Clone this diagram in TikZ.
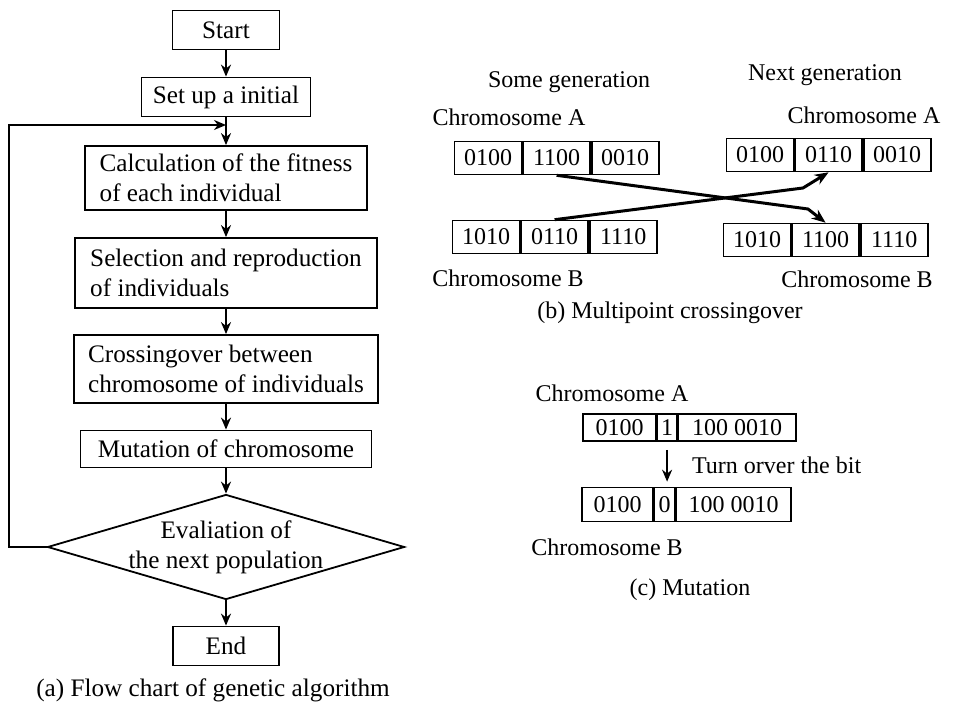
\documentclass[tikz,border=0pt]{standalone}
\usepackage{fontspec}
\setmainfont{Liberation Serif}
\usetikzlibrary{positioning,shapes.geometric,arrows.meta}
\begin{document}
\begin{tikzpicture}[x=0.5pt,y=-0.5pt,
   font=\fontsize{12}{14}\selectfont,
   box/.style={draw, line width=.9pt, inner sep=0pt, font=\fontsize{12.6}{15}\selectfont},
   cell/.style={draw, line width=.8pt, minimum width=33.5pt, minimum height=16.5pt, inner sep=0pt},
   arr/.style={line width=1pt, -{Stealth[length=6pt,width=5pt]}},
   xarr/.style={line width=1.5pt, -{Stealth[length=7pt,width=5.5pt]}}]
   \useasboundingbox (0,0) rectangle (971,706);

   % (a) flow chart
   \node[box, minimum width=53.5pt, minimum height=19.5pt] (start) at (226,30) {Start};
   \node[box, minimum width=84.5pt, minimum height=19.5pt] (init) at (226,97) {Set up a initial};
   \node[box, minimum width=141pt, minimum height=32pt, align=left] (fit) at (226,178) {Calculation of the fitness\\of each individual};
   \node[box, minimum width=151pt, minimum height=35pt, align=left] (sel) at (226,273) {Selection and reproduction\\of individuals};
   \node[box, minimum width=152pt, minimum height=34pt, align=left] (cross) at (226,369) {Crossingover between\\chromosome of individuals};
   \node[box, minimum width=145.5pt, minimum height=18.5pt] (mut) at (226,449) {Mutation of chromosome};
   \node[box, diamond, aspect=3.4, inner sep=-3pt, align=center, minimum width=178.5pt, minimum height=52.5pt] (eval) at (226,547) {Evaliation of\\the next population};
   \node[box, minimum width=53pt, minimum height=19.5pt] (end) at (226,646) {End};
   \node[font=\fontsize{12.6}{15}\selectfont] (capa) at (213,690) {(a) Flow chart of genetic algorithm};

   \coordinate (loopin) at (226,125);
   \draw[arr] (start) -- (init);
   \draw[line width=1pt] (init) -- (loopin);
   \draw[arr] (loopin) -- (fit);
   \draw[arr] (fit) -- (sel);
   \draw[arr] (sel) -- (cross);
   \draw[arr] (cross) -- (mut);
   \draw[arr] (mut) -- (eval);
   \draw[arr] (eval) -- (end);
   \draw[arr] (eval.west) -- ++(-38,0) |- (loopin);

   % (b) multipoint crossingover
   \node (someg) at (569,82) {Some generation};
   \node (nextg) at (825,75) {Next generation};
   \node (lca) at (509,117) {Chromosome A};
   \node (rca) at (864,115) {Chromosome A};

   \node[cell] (sa1) at (488,158) {0100};
   \node[cell, right=0pt of sa1] (sa2) {1100};
   \node[cell, right=0pt of sa2] (sa3) {0010};
   \node[cell] (sb1) at (486,237) {1010};
   \node[cell, right=0pt of sb1] (sb2) {0110};
   \node[cell, right=0pt of sb2] (sb3) {1110};

   \node[cell] (na1) at (760,155) {0100};
   \node[cell, right=0pt of na1] (na2) {0110};
   \node[cell, right=0pt of na2] (na3) {0010};
   \node[cell] (nb1) at (757,240) {1010};
   \node[cell, right=0pt of nb1] (nb2) {1100};
   \node[cell, right=0pt of nb2] (nb3) {1110};

   \node (lcb) at (508,278) {Chromosome B};
   \node (rcb) at (857,279) {Chromosome B};
   \node (capb) at (670,313) {(b) Multipoint crossingover};

   \coordinate (bendab) at (808,209);
   \coordinate (bendba) at (803,188);
   \draw[xarr] (sa2.south) -- (bendab) -- (nb2.north);
   \draw[xarr] (sb2.north) -- (bendba) -- (na2.south);

   % (c) mutation
   \node (mca) at (612,393) {Chromosome A};
   \node[cell, minimum width=36.5pt, minimum height=13.5pt] (ma1) at (619.5,427.5) {0100};
   \node[cell, minimum width=9.5pt, minimum height=13.5pt, right=0pt of ma1] (ma2) {1};
   \node[cell, minimum width=59pt, minimum height=13.5pt, right=0pt of ma2] (ma3) {100 0010};
   \node[cell, minimum width=35.5pt, minimum height=17pt] (mb1) at (617.5,504.5) {0100};
   \node[cell, minimum width=10pt, minimum height=17pt, right=0pt of mb1] (mb2) {0};
   \node[cell, minimum width=57.5pt, minimum height=17pt, right=0pt of mb2] (mb3) {100 0010};
   \draw[arr, shorten <=4pt, shorten >=2.5pt] (ma2.south) -- (ma2.south |- mb2.north);
   \node[anchor=west] (turn) at (685,465) {Turn orver the bit};
   \node (mcb) at (607,547) {Chromosome B};
   \node (capc) at (690,590) {(c) Mutation};

\end{tikzpicture}
\end{document}
